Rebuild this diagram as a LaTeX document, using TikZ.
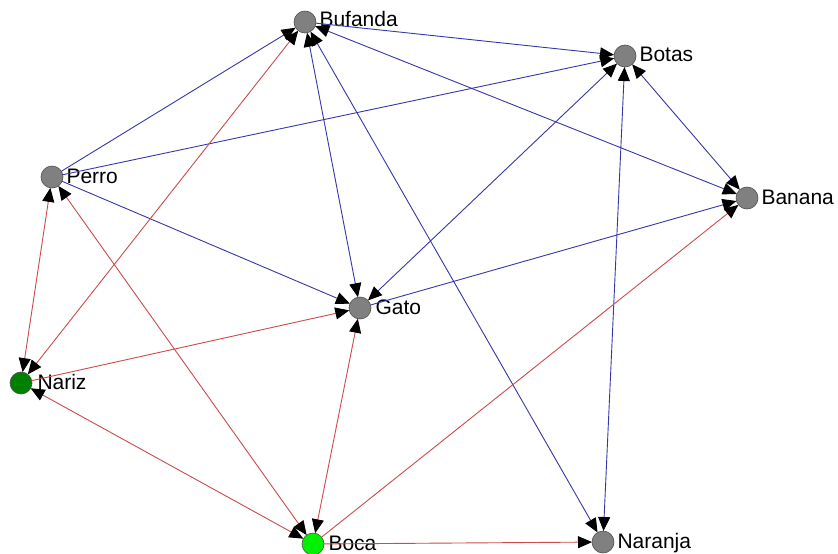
\documentclass[tikz,border=0pt]{standalone}
\usepackage{fontspec}
\setmainfont{Liberation Sans}
\usetikzlibrary{arrows.meta}
\definecolor{tieblue}{RGB}{55,55,170}
\definecolor{tiered}{RGB}{205,75,75}
\definecolor{actorgray}{RGB}{128,128,128}
\definecolor{actorrim}{RGB}{80,80,80}
\definecolor{darkgreen}{RGB}{0,128,0}
\definecolor{lightgreen}{RGB}{0,240,0}
\tikzset{
  actor/.style={circle, draw=actorrim, line width=0.6pt, fill=actorgray,
    minimum size=22pt, inner sep=0pt, outer sep=0pt},
  actorname/.style={anchor=base west, inner sep=0pt, outer sep=0pt,
    font=\fontsize{21}{25}\selectfont},
  tie/.style={line width=0.9pt, arrows={-Triangle[length=14pt,width=12pt,black]}},
  mutual/.style={line width=0.9pt,
    arrows={Triangle[length=14pt,width=12pt,black]-Triangle[length=14pt,width=12pt,black]}},
  bluetie/.style={tie, draw=tieblue},
  redtie/.style={tie, draw=tiered},
  bluemutual/.style={mutual, draw=tieblue},
  redmutual/.style={mutual, draw=tiered},
}
\begin{document}
\begin{tikzpicture}[x=1pt, y=-1pt]
  \useasboundingbox[fill=white] (0,0) rectangle (838,554);

  % actors
  \node[actor] (bufanda) at (305,22) {};
  \node[actor] (botas)   at (625,56) {};
  \node[actor] (banana)  at (747,198) {};
  \node[actor] (perro)   at (52,177) {};
  \node[actor] (gato)    at (360,308) {};
  \node[actor, fill=darkgreen] (nariz) at (21,383) {};
  \node[actor, fill=lightgreen] (boca) at (313,544) {};
  \node[actor] (naranja) at (603,542) {};

  % names
  \node[actorname] (bufanda-name) at (319.5,27)  {Bufanda};
  \node[actorname] (botas-name)   at (639.5,61)  {Botas};
  \node[actorname] (banana-name)  at (761.5,204) {Banana};
  \node[actorname] (perro-name)   at (66.5,183)  {Perro};
  \node[actorname] (gato-name)    at (375.5,314) {Gato};
  \node[actorname] (nariz-name)   at (37.5,389)  {Nariz};
  \node[actorname] (boca-name)    at (328.5,550) {Boca};
  \node[actorname] (naranja-name) at (617.5,548) {Naranja};

  % blue ties
  \draw[bluetie]    (bufanda) -- (botas);
  \draw[bluemutual] (bufanda) -- (banana);
  \draw[bluemutual] (bufanda) -- (gato);
  \draw[bluemutual] (bufanda) -- (naranja);
  \draw[bluetie]    (perro) -- (bufanda);
  \draw[bluetie]    (perro) -- (botas);
  \draw[bluetie]    (perro) -- (gato);
  \draw[bluemutual] (gato) -- (botas);
  \draw[bluetie]    (gato) -- (banana);
  \draw[bluemutual] (botas) -- (banana);
  \draw[bluemutual] (botas) -- (naranja);

  % red ties
  \draw[redmutual] (nariz) -- (perro);
  \draw[redmutual] (nariz) -- (bufanda);
  \draw[redtie]    (nariz) -- (gato);
  \draw[redmutual] (boca) -- (nariz);
  \draw[redmutual] (boca) -- (perro);
  \draw[redmutual] (boca) -- (gato);
  \draw[redtie]    (boca) -- (banana);
  \draw[redtie]    (boca) -- (naranja);
\end{tikzpicture}
\end{document}
